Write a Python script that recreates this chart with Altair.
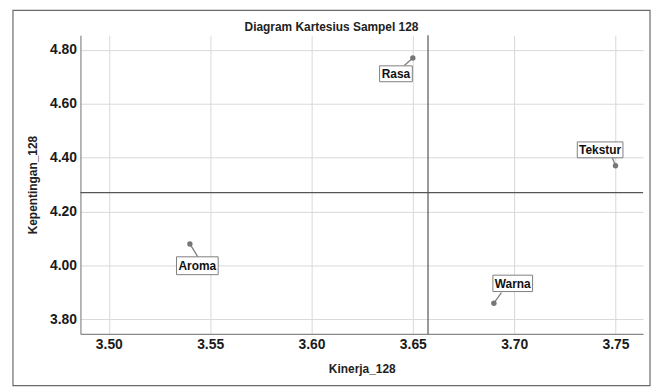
import altair as alt
import pandas as pd

labels = ["Aroma", "Rasa", "Warna", "Tekstur"]
kinerja = [3.54, 3.65, 3.69, 3.75]
kepentingan = [4.08, 4.77, 3.86, 4.37]
x_ticks = [3.50, 3.55, 3.60, 3.65, 3.70, 3.75]
y_ticks = [3.80, 4.00, 4.20, 4.40, 4.60, 4.80]
chart_title = "Diagram Kartesius Sampel 128"

df = pd.DataFrame({"Atribut": labels, "Kinerja_128": kinerja, "Kepentingan_128": kepentingan})

FONT = "Liberation Sans"
GRAY = "#7f7f7f"

xs = alt.Scale(domain=[3.486, 3.7636], nice=False, zero=False)
ys = alt.Scale(domain=[3.746, 4.854], nice=False, zero=False)

X = alt.X("Kinerja_128:Q", scale=xs, title="Kinerja_128",
          axis=alt.Axis(values=x_ticks, format=".2f"))
Y = alt.Y("Kepentingan_128:Q", scale=ys, title="Kepentingan_128",
          axis=alt.Axis(values=y_ticks, format=".2f"))

base = alt.Chart(df)
one = alt.Chart(alt.Data(values=[{"t": chart_title}]))

frame = one.mark_rect(
    fill=None, stroke="#6a6a6a", strokeWidth=1.2
).encode(x=alt.value(-68), x2=alt.value(574), y=alt.value(-25), y2=alt.value(353))

title_txt = one.mark_text(font=FONT, fontSize=12, fontWeight="bold", color="#222222",
                          baseline="alphabetic", align="center").encode(
    x=alt.value(253), y=alt.value(-4), text="t:N")

vrule = base.mark_rule(color="#555555", strokeWidth=1.2).encode(x=alt.X("mean(Kinerja_128):Q", scale=xs))
hrule = base.mark_rule(color="#555555", strokeWidth=1.2).encode(y=alt.Y("mean(Kepentingan_128):Q", scale=ys))

points = base.mark_circle(size=30, color="#777777", opacity=1).encode(x=X, y=Y)

# label box placement (pixel offsets from point), style only
place = {
    "Rasa":    dict(dx=-17, dy=16, w=33, h=16, lx=-8.6, ly=7.6),
    "Tekstur": dict(dx=-15.5, dy=-16, w=46, h=16, lx=-3.3, ly=-8.3),
    "Aroma":   dict(dx=7.5, dy=22, w=42, h=18, lx=8, ly=13),
    "Warna":   dict(dx=19, dy=-20, w=40, h=16.5, lx=7.6, ly=-10.6),
}

layers = [frame, title_txt, vrule, hrule]
for name, p in place.items():
    sub = base.transform_filter(alt.datum.Atribut == name)
    layers.append(sub.mark_rule(color=GRAY, strokeWidth=1.3, x2Offset=p["lx"], y2Offset=p["ly"]).encode(
        x=X, y=Y, x2="Kinerja_128:Q", y2="Kepentingan_128:Q"))
    layers.append(sub.mark_rect(fill="white", stroke=GRAY, strokeWidth=1,
                                width=p["w"], height=p["h"], xOffset=p["dx"], yOffset=p["dy"]).encode(x=X, y=Y))
    layers.append(sub.mark_text(font=FONT, fontSize=12, fontWeight="bold", color="#111111",
                                dx=p["dx"], dy=p["dy"] + 0.5, baseline="middle", align="center").encode(
        x=X, y=Y, text="Atribut:N"))
layers.append(points)

chart = alt.layer(*layers).properties(
    width=567, height=301,
    padding={"left": 4, "top": 0, "right": 0, "bottom": 0},
).configure_view(stroke=None).configure_axis(
    labelFont=FONT, labelFontSize=14, labelFontWeight="bold", labelColor="#1a1a1a",
    titleFont=FONT, titleFontSize=12, titleFontWeight="bold", titleColor="#222222",
    domainColor="#888888", domainWidth=1.2, gridColor="#d9d9d9", gridWidth=1,
    ticks=False, labelPadding=4,
).configure_axisX(titlePadding=12).configure_axisY(titlePadding=10)

chart.save("out.html", embed_options={"renderer": "svg", "actions": False})
